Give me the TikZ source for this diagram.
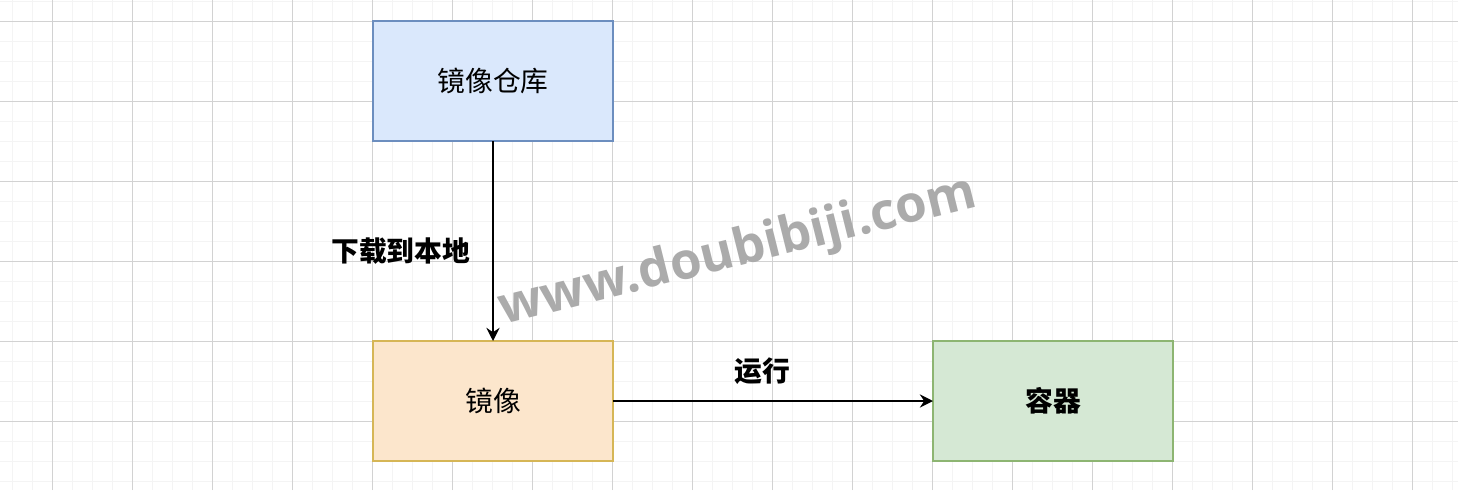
\documentclass[tikz,border=0pt]{standalone}
\usepackage{fontspec}
\newfontfamily\cjk{Noto Sans CJK SC}
\newfontfamily\wmfont{Open Sans}
\usetikzlibrary{positioning, arrows.meta}
\definecolor{repofill}{HTML}{DAE8FC}
\definecolor{repodraw}{HTML}{6C8EBF}
\definecolor{imgfill}{HTML}{FCE6CC}
\definecolor{imgdraw}{HTML}{D6B656}
\definecolor{ctrfill}{HTML}{D5E8D4}
\definecolor{ctrdraw}{HTML}{8DB572}
\definecolor{gridminor}{HTML}{F4F4F4}
\definecolor{gridmajor}{HTML}{D2D2D2}
\tikzstyle{box} = [rectangle, minimum width=4.8cm, minimum height=2.4cm, outer sep=0pt, text centered, line width=0.6pt, font=\cjk\fontsize{15.8pt}{19pt}\selectfont]
\tikzstyle{repo} = [box, draw=repodraw, fill=repofill]
\tikzstyle{img} = [box, draw=imgdraw, fill=imgfill]
\tikzstyle{ctr} = [box, draw=ctrdraw, fill=ctrfill, font=\cjk\bfseries\fontsize{15.8pt}{19pt}\selectfont]
\tikzstyle{lbl} = [font=\cjk\bfseries\fontsize{15.8pt}{19pt}\selectfont]
\tikzstyle{arrow} = [line width=1.1pt, -{Stealth[length=7.5pt, width=7.5pt, inset=2.5pt]}]
\begin{document}
\begin{tikzpicture}[node distance=4cm]
            \useasboundingbox (0,0) rectangle (29.16,9.8);
            \fill[white] (0,0) rectangle (29.16,9.8);
            % grid
            \foreach \x in {0.24,0.64,...,29.1} \draw[gridminor, line width=0.5pt] (\x,0) -- (\x,9.8);
            \foreach \y in {0.18,0.58,...,9.8} \draw[gridminor, line width=0.5pt] (0,\y) -- (29.16,\y);
            \foreach \x in {1.04,2.64,...,29.1} \draw[gridmajor, line width=0.5pt] (\x,0) -- (\x,9.8);
            \foreach \y in {1.38,2.98,...,9.8} \draw[gridmajor, line width=0.5pt] (0,\y) -- (29.16,\y);

            \node (repo) [repo] at (9.86,8.18) {镜像仓库};
            \node (image) [img, below=of repo] {镜像};
            \node (container) [ctr, right=6.4cm of image] {容器};

            \draw [arrow] (repo) -- node[lbl, anchor=east, pos=0.55, xshift=-0.32cm] {下载到本地} (image);
            \draw [arrow] (image) -- node[lbl, anchor=south, xshift=-0.22cm, yshift=0.2cm] {运行} (container);

            \node (mark) [rotate=14, text=black!33, font=\wmfont\bfseries\fontsize{29pt}{34pt}\selectfont] at (14.76,4.75) {www.doubibiji.com};
        \end{tikzpicture}
\end{document}
